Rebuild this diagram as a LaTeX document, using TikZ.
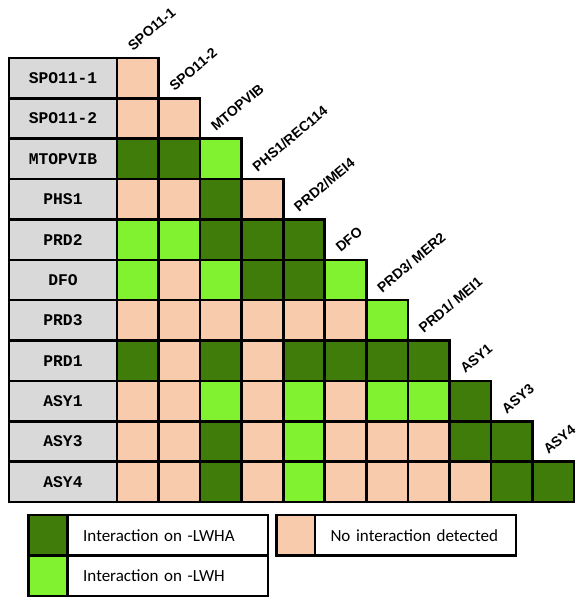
\documentclass[tikz,border=0pt]{standalone}
\usepackage{fontspec}
\setmainfont{Liberation Sans}
\newfontfamily\legendfont{Carlito}
\newfontfamily\genefont{Liberation Mono}
\usepackage{xcolor}
\usetikzlibrary{positioning}
\definecolor{intD}{RGB}{63,124,10}
\definecolor{intL}{RGB}{128,242,48}
\definecolor{intN}{RGB}{248,203,173}
\definecolor{genegrey}{RGB}{217,217,217}
\newcommand{\cw}{41.55}
\newcommand{\ch}{40.36}

\begin{document}
\begin{tikzpicture}[x=1pt,y=1pt,line width=2.6pt,every node/.style={outer sep=0pt},
  cell/.style={draw,inner sep=0pt,minimum width=\cw pt,minimum height=\ch pt,anchor=north west},
  rowlab/.style={cell,fill=genegrey,minimum width=108pt,font=\genefont\bfseries\fontsize{16.3}{18}\selectfont},
  collab/.style={rotate=40,anchor=base west,inner sep=0pt,font=\bfseries\fontsize{14}{16}\selectfont},
  swatch/.style={draw,inner sep=0pt,minimum width=39pt,minimum height=40.5pt},
  legtext/.style={draw,inner ysep=0pt,inner xsep=15.5pt,minimum height=40.5pt,align=left,
    font=\legendfont\fontsize{17}{20}\selectfont}]
  \useasboundingbox (0,0) rectangle (580,-598);
  \foreach \gname/\cells [count=\r] in {SPO11-1/{N}, SPO11-2/{N,N}, MTOPVIB/{D,D,L},
      PHS1/{N,N,D,N}, PRD2/{L,L,D,D,D}, DFO/{L,N,L,D,D,L}, PRD3/{N,N,N,N,N,N,L},
      PRD1/{D,N,D,N,D,D,D,D}, ASY1/{N,N,L,N,L,N,L,L,D}, ASY3/{N,N,D,N,L,N,N,N,D,D},
      ASY4/{N,N,D,N,L,N,N,N,N,D,D}} {
    \node[rowlab] (g\r) at (9,{-58-(\r-1)*\ch}) {\gname};
    \foreach \k [count=\c] in \cells
      \node[cell,fill=int\k] (c\r-\c) at ({117+(\c-1)*\cw},{-58-(\r-1)*\ch}) {};
  }
  \foreach \clab [count=\c] in {SPO11-1, SPO11-2, MTOPVIB, PHS1/REC114, PRD2/MEI4, DFO,
      PRD3/ MER2, PRD1/ MEI1, ASY1, ASY3, ASY4}
    \node[collab] (h\c) at ({117+(\c-1)*\cw+16},{-58-(\c-1)*\ch+7}) {\clab};

  \node[swatch,fill=intD,anchor=north west] (swD) at (28.7,-515) {};
  \node[legtext,right=0pt of swD,text width=169.3pt] (tD) {Interaction on -LWHA};
  \node[swatch,fill=intL,below=0pt of swD] (swL) {};
  \node[legtext,right=0pt of swL,text width=169.3pt] (tL) {Interaction on -LWH};
  \node[swatch,fill=intN,minimum width=38.3pt,anchor=north west] (swN) at (276.7,-515) {};
  \node[legtext,right=0pt of swN,text width=170pt] (tN) {No interaction detected};
\end{tikzpicture}
\end{document}
